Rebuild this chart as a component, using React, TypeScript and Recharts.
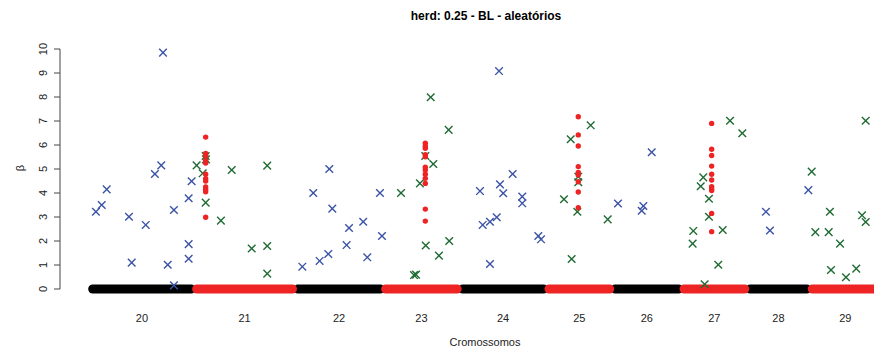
import React from 'react';
import { ScatterChart, Scatter, XAxis, YAxis, ReferenceLine } from 'recharts';

// cromossomos e comprimentos (Mb)
const cromossomos = ['20', '21', '22', '23', '24', '25', '26', '27', '28', '29'];
const comprimentoMb = [77, 75, 65, 57, 64, 49, 51, 49, 46, 53];

// efeitos estimados (posição acumulada em Mb, beta)
const marcadoresPares: [number, number][] = [
  [4.4, 3.22], [8.7, 3.5], [12.4, 4.15], [28.9, 3.01], [30.9, 1.1], [41.3, 2.67],
  [48.1, 4.79], [52.8, 5.15], [54.1, 9.85], [57.6, 1.01], [62.2, 3.29], [62.2, 0.15],
  [73.1, 3.78], [73.1, 1.87], [73.1, 1.26], [75.3, 4.49],
  [157.3, 0.93], [165.4, 4.0], [170.1, 1.17], [176.5, 1.46], [177.3, 5.0], [179.5, 3.35],
  [190.1, 1.83], [191.9, 2.54], [202.4, 2.8], [205.4, 1.32], [214.8, 4.0], [216.3, 2.21],
  [288.9, 4.08], [290.9, 2.67], [296.3, 2.8], [296.3, 1.04], [301.3, 2.99], [303.0, 9.08],
  [303.7, 4.36], [306.1, 3.99], [313.1, 4.79], [320.2, 3.85], [320.2, 3.57], [332.1, 2.21],
  [334.1, 2.07],
  [391.1, 3.56], [408.7, 3.26], [409.9, 3.46], [416.1, 5.7],
  [500.7, 3.22], [503.7, 2.44], [532.1, 4.12],
];

const marcadoresImpares: [number, number][] = [
  [79.0, 5.15], [83.5, 4.82], [85.7, 5.54], [85.9, 5.4], [85.7, 3.6], [97.0, 2.85],
  [105.0, 4.96], [119.8, 1.69], [131.3, 5.14], [131.3, 1.79], [131.3, 0.64],
  [230.4, 4.0], [240.0, 0.58], [241.5, 0.6], [244.4, 4.4], [248.4, 5.54], [248.7, 1.81],
  [252.4, 7.99], [254.3, 5.21], [258.5, 1.39], [265.7, 6.63], [266.1, 2.0],
  [351.1, 3.74], [356.1, 6.24], [356.8, 1.25], [361.0, 3.22], [361.7, 4.68], [361.7, 4.45],
  [370.9, 6.82], [383.5, 2.9],
  [446.4, 1.89], [446.9, 2.42], [452.4, 4.28], [454.3, 4.65], [455.3, 0.2], [458.5, 3.76],
  [458.5, 3.01], [465.4, 1.01], [468.7, 2.46], [474.1, 7.01], [483.2, 6.49],
  [534.6, 4.89], [537.3, 2.37], [547.2, 2.37], [548.1, 3.22], [548.9, 0.79], [555.6, 1.89],
  [560.0, 0.49], [567.6, 0.85], [571.9, 3.07], [574.6, 2.79], [574.6, 7.01],
];

// QTL simulados
const qtlPosicao = [85.7, 248.4, 361.7, 460.5];
const qtlEfeitos = [
  [6.33, 5.65, 5.55, 5.35, 5.25, 4.78, 4.6, 4.5, 4.25, 4.15, 4.05, 2.99],
  [6.07, 5.95, 5.86, 5.6, 5.51, 5.07, 4.96, 4.78, 4.61, 4.4, 3.33, 2.83],
  [7.18, 6.42, 5.96, 5.1, 4.86, 4.75, 4.47, 4.04, 3.39],
  [6.9, 5.82, 5.56, 5.12, 4.78, 4.54, 4.26, 4.17, 4.1, 3.15, 2.39],
];

const yTicks = [0, 1, 2, 3, 4, 5, 6, 7, 8, 9, 10];

const inicio = comprimentoMb.reduce<number[]>((acc, c, i) => {
  acc.push(i === 0 ? 0 : acc[i - 1] + comprimentoMb[i - 1]);
  return acc;
}, []);
const meio = inicio.map((s, i) => s + comprimentoMb[i] / 2);

const pares = marcadoresPares.map(([x, y]) => ({ x, y }));
const impares = marcadoresImpares.map(([x, y]) => ({ x, y }));
const qtl = qtlPosicao.flatMap((x, i) => qtlEfeitos[i].map((y) => ({ x, y })));

const AZUL = '#3b53a5';
const VERDE = '#1f6b33';
const VERMELHO = '#ee2424';

const xMark = (color: string) => (props: any) => {
  const { cx, cy } = props;
  const s = 3.8;
  return (
    <g stroke={color} strokeWidth={1.4}>
      <line x1={cx - s} y1={cy - s} x2={cx + s} y2={cy + s} />
      <line x1={cx - s} y1={cy + s} x2={cx + s} y2={cy - s} />
    </g>
  );
};

const dot = (props: any) => <circle cx={props.cx} cy={props.cy} r={2.7} fill={VERMELHO} />;

const YTick = (props: any) => {
  const { x, y, payload } = props;
  return (
    <text x={x} y={y} transform={`rotate(-90 ${x} ${y})`} textAnchor="middle" fontSize={11} fill="#222">
      {payload.value}
    </text>
  );
};

const fonte = '"Liberation Sans", Arial, Helvetica, sans-serif';

export default function App() {
  return (
    <div
      style={{
        position: 'absolute',
        left: 8,
        top: 8,
        width: 866,
        height: 341,
        overflow: 'hidden',
        background: '#fff',
        fontFamily: fonte,
      }}
    >
      <ScatterChart width={940} height={341} margin={{ top: 31.4, right: 36, left: 0, bottom: 10.4 }}>
        <XAxis
          type="number"
          dataKey="x"
          domain={[-22.2, 608.9]}
          allowDataOverflow
          ticks={meio}
          interval={0}
          tickFormatter={(v: number) => cromossomos[meio.indexOf(v)] ?? ''}
          axisLine={false}
          tickLine={false}
          tickSize={0}
          tickMargin={16}
          height={40}
          tick={{ fontSize: 11, fill: '#222', fontFamily: fonte }}
        />
        <YAxis
          type="number"
          dataKey="y"
          domain={[-0.4, 10.4]}
          allowDataOverflow
          ticks={yTicks}
          interval={0}
          width={52}
          axisLine={false}
          tickLine={{ stroke: '#444' }}
          tickSize={6}
          tickMargin={7}
          tick={<YTick />}
        />
        <ReferenceLine
          segment={[{ x: -22.2, y: 0 }, { x: -22.2, y: 10 }]}
          stroke="#444"
          strokeWidth={1}
        />
        <Scatter data={pares} shape={xMark(AZUL)} isAnimationActive={false} />
        <Scatter data={impares} shape={xMark(VERDE)} isAnimationActive={false} />
        <Scatter data={qtl} shape={dot} isAnimationActive={false} />
        {inicio.map((s, i) =>
          i % 2 === 0 ? (
            <ReferenceLine
              key={`p${i}`}
              segment={[{ x: s + 2, y: 0 }, { x: s + comprimentoMb[i] - 2, y: 0 }]}
              stroke="#000"
              strokeWidth={9}
              strokeLinecap="round"
            />
          ) : null
        )}
        {inicio.map((s, i) =>
          i % 2 === 1 ? (
            <ReferenceLine
              key={`i${i}`}
              segment={[{ x: s + 2, y: 0 }, { x: s + comprimentoMb[i] - 2, y: 0 }]}
              stroke={VERMELHO}
              strokeWidth={9}
              strokeLinecap="round"
            />
          ) : null
        )}
      </ScatterChart>
      <div
        style={{
          position: 'absolute',
          left: 478,
          top: 8,
          transform: 'translate(-50%, -50%)',
          fontSize: 12,
          fontWeight: 'bold',
          whiteSpace: 'nowrap',
          lineHeight: 1,
        }}
      >
        herd: 0.25 - BL - aleatórios
      </div>
      <div
        style={{
          position: 'absolute',
          left: 477,
          top: 334,
          transform: 'translate(-50%, -50%)',
          fontSize: 11,
          color: '#222',
          whiteSpace: 'nowrap',
          lineHeight: 1,
        }}
      >
        Cromossomos
      </div>
      <div
        style={{
          position: 'absolute',
          left: 12,
          top: 160,
          transform: 'translate(-50%, -50%) rotate(-90deg)',
          fontSize: 11,
          color: '#222',
          whiteSpace: 'nowrap',
          lineHeight: 1,
        }}
      >
        β
      </div>
    </div>
  );
}
